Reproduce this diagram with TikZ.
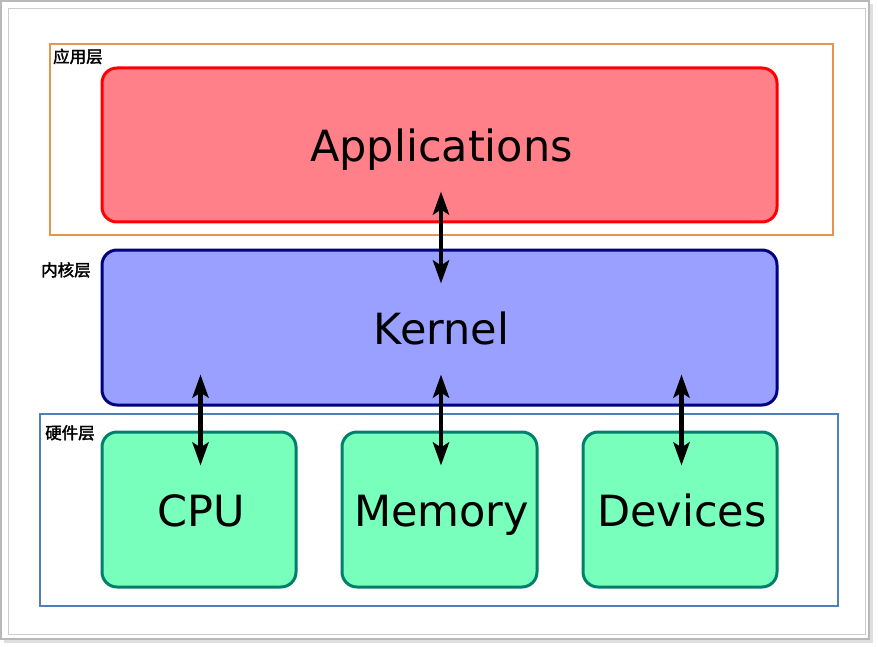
\documentclass[tikz,border=0pt]{standalone}
\usepackage{fontspec}
\setmainfont{DejaVu Sans}
\newfontfamily\cjk[AutoFakeBold=2]{Noto Sans CJK SC}
\usetikzlibrary{arrows.meta}

\definecolor{appfill}{HTML}{FF8088}
\definecolor{kernfill}{HTML}{99A0FF}
\definecolor{kernline}{HTML}{000080}
\definecolor{hwfill}{HTML}{77FFBB}
\definecolor{hwline}{HTML}{00806A}
\definecolor{appframe}{HTML}{E6954F}
\definecolor{hwframe}{HTML}{4F80B8}

\begin{document}
\begin{tikzpicture}[x=1pt,y=-1pt,
  box/.style={line width=3pt,rounded corners=15pt,inner sep=0pt,
    text height=34pt,text depth=0pt,font=\fontsize{43}{50}\selectfont},
  tag/.style={anchor=north west,inner sep=0pt,font=\cjk\bfseries\fontsize{16.5}{18}\selectfont},
  link/.style={line width=4.5pt,{Stealth[length=23pt,width=16pt,inset=5pt]}-{Stealth[length=23pt,width=16pt,inset=5pt]}}]
\useasboundingbox (0,0) rectangle (878,647);
% outer frame
\fill[gray!25] (4,4) rectangle (873,643);
\fill[white] (1,1) rectangle (869,639);
\draw[gray!55,line width=1.5pt] (1,1) rectangle (869,639);
\draw[gray!40] (8,8) rectangle (865,634);
% layer frames
\draw[appframe,line width=1.5pt] (50,44) rectangle (833,235);
\draw[hwframe,line width=1.5pt] (40,414) rectangle (838,606);
\node[tag] (applayer) at (53,48.5) {应用层};
\node[tag] (kernlayer) at (41,262) {内核层};
\node[tag] (hwlayer) at (45,425) {硬件层};
% boxes
\node[box,draw=red,fill=appfill,minimum width=675,minimum height=154] (apps) at (439.5,145) {\hspace*{4pt}Applications};
\node[box,draw=kernline,fill=kernfill,minimum width=675,minimum height=155] (kernel) at (439.5,327.5) {\hspace*{4pt}Kernel};
\node[box,draw=hwline,fill=hwfill,minimum width=194,minimum height=155] (cpu) at (199,509.5) {\hspace*{4pt}CPU};
\node[box,draw=hwline,fill=hwfill,minimum width=195,minimum height=155] (mem) at (439.5,509.5) {\hspace*{4pt}Memory};
\node[box,draw=hwline,fill=hwfill,minimum width=194,minimum height=155] (dev) at (680,509.5) {\hspace*{4pt}Devices};
% arrows
\coordinate (a1) at ([xshift=1.5pt,yshift=32pt]apps.south);
\coordinate (a2) at ([xshift=1.5pt,yshift=-35pt]kernel.north);
\draw[link] (a1) -- (a2);
\foreach \hw in {cpu,mem,dev}{
  \coordinate (top-\hw) at ([xshift=1.5pt,yshift=32pt]kernel.south -| \hw.north);
  \coordinate (bot-\hw) at ([xshift=1.5pt,yshift=-35pt]\hw.north);
  \draw[link] (top-\hw) -- (bot-\hw);
}
\end{tikzpicture}
\end{document}
